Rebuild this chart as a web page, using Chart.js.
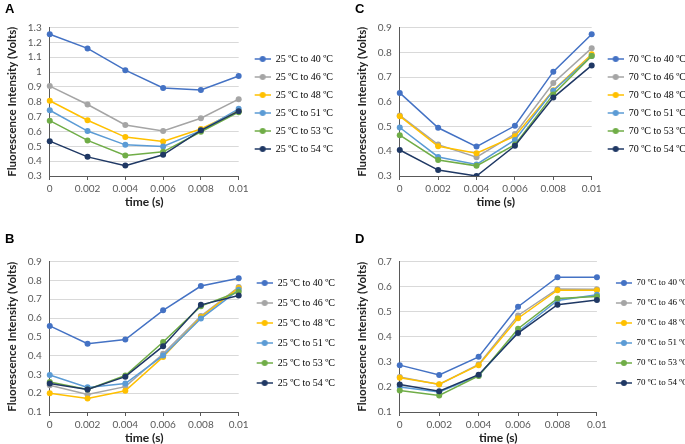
<!DOCTYPE html>
<html>
<head>
<meta charset="utf-8">
<script src="https://cdn.jsdelivr.net/npm/chart.js@4.4.1/dist/chart.umd.min.js"></script>
<style>
  html, body { margin: 0; padding: 0; background: #fff; }
  body { width: 685px; height: 444px; position: relative; overflow: hidden; }
  .panel { position: absolute; }
</style>
</head>
<body>
<div class="panel" style="left:0;top:0;width:343px;height:208px"><canvas id="chartA"></canvas></div>
<div class="panel" style="left:350px;top:0;width:346px;height:208px"><canvas id="chartC"></canvas></div>
<div class="panel" style="left:0;top:222px;width:345px;height:222px"><canvas id="chartB"></canvas></div>
<div class="panel" style="left:350px;top:222px;width:348px;height:222px"><canvas id="chartD"></canvas></div>
<script>
// x categories (time, s)
const timeLabels = ['0', '0.002', '0.004', '0.006', '0.008', '0.01'];

const namesFrom25 = ['25 ºC to 40 ºC', '25 ºC to 46 ºC', '25 ºC to 48 ºC', '25 ºC to 51 ºC', '25 ºC to 53 ºC', '25 ºC to 54 ºC'];
const namesFrom70 = ['70 ºC to 40 ºC', '70 ºC to 46 ºC', '70 ºC to 48 ºC', '70 ºC to 51 ºC', '70 ºC to 53 ºC', '70 ºC to 54 ºC'];

// panel A
const a40 = [1.255, 1.160, 1.013, 0.893, 0.879, 0.974];
const a46 = [0.906, 0.782, 0.644, 0.603, 0.689, 0.818];
const a48 = [0.807, 0.676, 0.562, 0.533, 0.617, 0.740];
const a51 = [0.743, 0.603, 0.510, 0.499, 0.606, 0.753];
const a53 = [0.673, 0.540, 0.438, 0.463, 0.598, 0.730];
const a54 = [0.535, 0.429, 0.370, 0.443, 0.608, 0.737];

// panel B
const b40 = [0.558, 0.463, 0.485, 0.641, 0.770, 0.812];
const b46 = [0.242, 0.193, 0.235, 0.410, 0.610, 0.765];
const b48 = [0.200, 0.172, 0.213, 0.393, 0.605, 0.760];
const b51 = [0.297, 0.231, 0.251, 0.400, 0.597, 0.750];
const b53 = [0.260, 0.220, 0.294, 0.472, 0.663, 0.740];
const b54 = [0.251, 0.220, 0.288, 0.450, 0.670, 0.720];

// panel C
const c40 = [0.636, 0.495, 0.419, 0.503, 0.722, 0.873];
const c46 = [0.545, 0.427, 0.376, 0.470, 0.676, 0.817];
const c48 = [0.542, 0.420, 0.392, 0.461, 0.647, 0.792];
const c51 = [0.496, 0.377, 0.347, 0.446, 0.645, 0.785];
const c53 = [0.465, 0.365, 0.341, 0.427, 0.630, 0.785];
const c54 = [0.405, 0.324, 0.300, 0.422, 0.617, 0.747];

// panel D
const d40 = [0.287, 0.248, 0.320, 0.520, 0.638, 0.638];
const d46 = [0.240, 0.210, 0.290, 0.485, 0.591, 0.590];
const d48 = [0.237, 0.211, 0.287, 0.474, 0.586, 0.586];
const d51 = [0.200, 0.180, 0.245, 0.420, 0.545, 0.568];
const d53 = [0.186, 0.166, 0.244, 0.432, 0.553, 0.561];
const d54 = [0.210, 0.183, 0.249, 0.415, 0.528, 0.547];

const colors = ['#4472C4', '#A5A5A5', '#FFC000', '#5B9BD5', '#70AD47', '#1F3864'];

// line-with-dot marker for the legend (left part left blank on purpose)
function legendMarker(color) {
  const c = document.createElement('canvas');
  c.width = 24; c.height = 8;
  const ctx = c.getContext('2d');
  ctx.strokeStyle = color;
  ctx.lineWidth = 1.5;
  ctx.beginPath();
  ctx.moveTo(8, 4); ctx.lineTo(24, 4);
  ctx.stroke();
  ctx.fillStyle = color;
  ctx.beginPath();
  ctx.arc(16, 4, 3, 0, Math.PI * 2);
  ctx.fill();
  return c;
}
const markers = colors.map(legendMarker);

function makePanel(id, letter, names, series, yMin, yMax, opts) {
  const ctx = document.getElementById(id).getContext('2d');
  return new Chart(ctx, {
    type: 'line',
    data: {
      labels: timeLabels,
      datasets: series.map((vals, i) => ({
        label: names[i],
        data: vals,
        borderColor: colors[i],
        backgroundColor: colors[i],
        borderWidth: 1.5,
        pointRadius: 3,
        pointBorderWidth: 0,
        pointStyle: 'circle',
        tension: 0,
        order: series.length - i   // later series drawn on top, like the original
      }))
    },
    options: {
      responsive: true,
      maintainAspectRatio: false,
      animation: false,
      layout: { padding: { left: 5, right: 0, top: 0, bottom: 0 } },
      plugins: {
        title: {
          display: true,
          text: letter,
          align: 'start',
          color: '#000',
          font: { family: 'Liberation Sans', size: 13, weight: 'bold' },
          padding: { top: opts.titleTop, bottom: opts.titleBottom }
        },
        legend: {
          position: 'right',
          align: 'center',
          maxWidth: 140,
          labels: {
            usePointStyle: true,
            pointStyleWidth: 24,
            boxHeight: 8,
            padding: opts.legendGap,
            color: '#222',
            font: { family: 'Liberation Serif', size: opts.legendSize },
            generateLabels: (chart) => chart.data.datasets.map((ds, i) => ({
              text: ds.label,
              pointStyle: markers[i],
              fillStyle: colors[i],
              strokeStyle: colors[i],
              lineWidth: 0,
              hidden: false,
              datasetIndex: i
            }))
          }
        },
        tooltip: { enabled: false }
      },
      scales: {
        x: {
          type: 'category',
          offset: false,
          grid: { display: true, drawOnChartArea: false, drawTicks: true, tickLength: 4, color: '#595959' },
          border: { color: '#595959', width: 1 },
          ticks: { color: '#595959', font: { family: 'Lato', size: 10 }, padding: 3, maxRotation: 0, autoSkip: false },
          title: {
            display: true,
            text: 'time (s)',
            color: '#222',
            font: { family: 'Lato', size: 12, weight: 'bold', lineHeight: 1 },
            padding: { top: -2, bottom: 0 }
          }
        },
        y: {
          min: yMin,
          max: yMax,
          ticks: {
            stepSize: 0.1,
            autoSkip: false,
            color: '#595959',
            font: { family: 'Lato', size: 10 },
            padding: 8,
            callback: (v) => +v.toFixed(1)
          },
          grid: { color: '#D9D9D9', drawTicks: false },
          border: { color: '#595959', width: 1 },
          title: {
            display: true,
            text: 'Fluorescence Intensity (Volts)',
            color: '#222',
            font: { family: 'Lato', size: 11.5, weight: 'bold' },
            padding: { top: 0, bottom: 1 }
          }
        }
      }
    }
  });
}

makePanel('chartA', 'A', namesFrom25, [a40, a46, a48, a51, a53, a54], 0.3, 1.3,
  { titleTop: 2, titleBottom: 10, legendGap: 8, legendSize: 10 });
makePanel('chartC', 'C', namesFrom70, [c40, c46, c48, c51, c53, c54], 0.3, 0.9,
  { titleTop: 2, titleBottom: 10, legendGap: 8, legendSize: 10 });
makePanel('chartB', 'B', namesFrom25, [b40, b46, b48, b51, b53, b54], 0.1, 0.9,
  { titleTop: 10, titleBottom: 14, legendGap: 10, legendSize: 10 });
makePanel('chartD', 'D', namesFrom70, [d40, d46, d48, d51, d53, d54], 0.1, 0.7,
  { titleTop: 10, titleBottom: 14, legendGap: 11, legendSize: 9 });
</script>
</body>
</html>
